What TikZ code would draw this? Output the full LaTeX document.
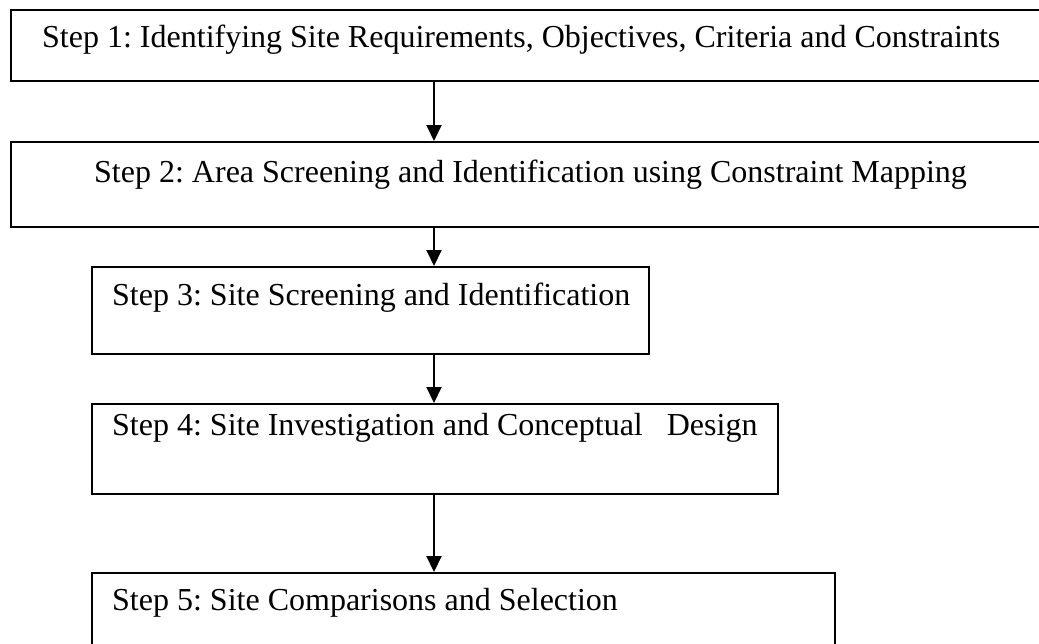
\documentclass[tikz,border=0pt]{standalone}
\usepackage{fontspec}
\setmainfont{Liberation Serif}
\frenchspacing
\usetikzlibrary{arrows.meta, positioning}
\tikzset{box/.style={draw, line width=2.2pt, rectangle, inner sep=0pt, anchor=north west}}
\tikzset{flow/.style={line width=2pt, -{Triangle[width=15pt, length=16pt]}}}
\tikzset{steptext/.style={anchor=base west, inner sep=0pt, font=\fontsize{32}{38}\selectfont}}

\begin{document}
\begin{tikzpicture}[x=1pt, y=-1pt]
        \useasboundingbox (0,0) rectangle (1039,643);
        \clip (0,0) rectangle (1039,643);

        \node[box, minimum width=1029pt, minimum height=71pt] (s1) at (10, 9) {};
        \node[box, minimum width=1029pt, minimum height=85pt] (s2) at (10, 141) {};
        \node[box, minimum width=557pt, minimum height=87pt] (s3) at (91, 266) {};
        \node[box, minimum width=686pt, minimum height=90pt] (s4) at (91, 403) {};
        \node[box, minimum width=743pt, minimum height=100pt] (s5) at (91, 572) {};

        \node[steptext] (t1) at (42, 47) {Step 1: Identifying Site Requirements, Objectives, Criteria and Constraints};
        \node[steptext] (t2) at (94, 182) {Step 2: Area Screening and Identification using Constraint Mapping};
        \node[steptext] (t3) at (112, 305) {Step 3: Site Screening and Identification};
        \node[steptext] (t4) at (112, 435) {Step 4: Site Investigation and Conceptual\ \ \ Design};
        \node[steptext] (t5) at (112, 610) {Step 5: Site Comparisons and Selection};

        \coordinate (ax) at (434, 0);
        \draw [flow] (ax |- s1.south) -- (ax |- s2.north);
        \draw [flow] (ax |- s2.south) -- (ax |- s3.north);
        \draw [flow] (ax |- s3.south) -- (ax |- s4.north);
        \draw [flow] (ax |- s4.south) -- (ax |- s5.north);
\end{tikzpicture}
\end{document}
